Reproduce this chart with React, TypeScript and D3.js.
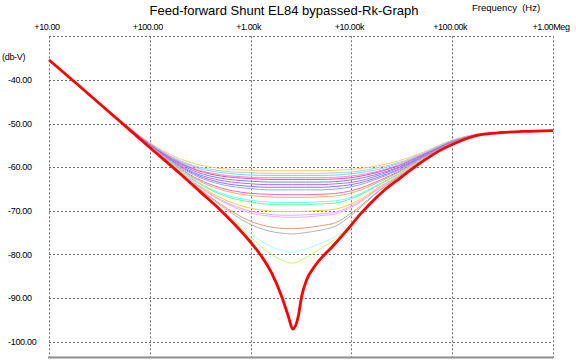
import React, { useEffect, useRef } from 'react';
import * as d3 from 'd3';

// frequency grid (Hz) shared by the stepped curves
const FREQ = [10, 20, 50, 100, 200, 300, 500, 1000, 1500, 2000, 2600, 3500, 5000, 7000, 10000, 20000, 30000, 50000, 100000, 200000, 500000, 1000000];

// stepped Rk curves (db-V), top to bottom
const step1 = [-35.4, -41.4, -49.1, -54.4, -58.1, -59.4, -60.3, -60.7, -60.8, -60.8, -60.8, -60.8, -60.8, -60.7, -60.5, -59.5, -58.5, -56.7, -53.8, -52.2, -51.8, -51.6];
const step2 = [-35.4, -41.4, -49.1, -54.5, -58.5, -59.9, -60.8, -61.3, -61.4, -61.4, -61.4, -61.4, -61.4, -61.3, -61.1, -59.9, -58.9, -56.9, -53.9, -52.3, -51.8, -51.6];
const step3 = [-35.4, -41.4, -49.2, -54.6, -58.7, -60.2, -61.2, -61.8, -61.9, -61.9, -61.9, -61.9, -61.9, -61.8, -61.5, -60.3, -59.1, -57.1, -54.0, -52.3, -51.8, -51.6];
const step4 = [-35.4, -41.4, -49.2, -54.7, -58.9, -60.6, -61.7, -62.3, -62.4, -62.4, -62.4, -62.4, -62.4, -62.3, -62.0, -60.7, -59.4, -57.2, -54.1, -52.3, -51.8, -51.6];
const step5 = [-35.4, -41.4, -49.2, -54.8, -59.1, -60.8, -62.0, -62.6, -62.8, -62.8, -62.8, -62.8, -62.8, -62.7, -62.4, -60.9, -59.6, -57.3, -54.2, -52.4, -51.8, -51.6];
const step6 = [-35.4, -41.4, -49.3, -54.9, -59.3, -61.2, -62.5, -63.2, -63.4, -63.4, -63.4, -63.4, -63.4, -63.3, -62.9, -61.3, -59.9, -57.5, -54.2, -52.4, -51.8, -51.6];
const step7 = [-35.4, -41.4, -49.3, -54.9, -59.6, -61.6, -63.0, -63.8, -64.0, -64.0, -64.0, -64.0, -64.0, -63.8, -63.5, -61.6, -60.1, -57.7, -54.3, -52.4, -51.8, -51.6];
const step8 = [-35.4, -41.4, -49.3, -55.0, -59.8, -61.9, -63.5, -64.4, -64.6, -64.6, -64.6, -64.6, -64.6, -64.4, -64.0, -62.0, -60.4, -57.8, -54.4, -52.4, -51.8, -51.6];
const step9 = [-35.4, -41.4, -49.3, -55.1, -60.0, -62.2, -63.9, -64.9, -65.2, -65.2, -65.2, -65.2, -65.2, -65.0, -64.5, -62.3, -60.6, -57.9, -54.4, -52.5, -51.8, -51.6];
const step10 = [-35.4, -41.4, -49.4, -55.2, -60.3, -62.7, -64.7, -66.0, -66.2, -66.3, -66.3, -66.3, -66.2, -66.0, -65.4, -62.8, -60.9, -58.1, -54.5, -52.5, -51.8, -51.6];
const step11 = [-35.4, -41.4, -49.4, -55.2, -60.4, -63.0, -65.1, -66.5, -66.8, -66.9, -66.9, -66.9, -66.8, -66.6, -65.9, -63.1, -61.1, -58.2, -54.5, -52.5, -51.8, -51.6];
const step12 = [-35.4, -41.4, -49.4, -55.3, -60.6, -63.4, -65.9, -67.6, -68.0, -68.1, -68.1, -68.1, -67.9, -67.7, -66.9, -63.5, -61.4, -58.3, -54.6, -52.5, -51.8, -51.6];
const step13 = [-35.4, -41.4, -49.4, -55.3, -60.7, -63.6, -66.2, -68.0, -68.5, -68.6, -68.6, -68.6, -68.4, -68.2, -67.2, -63.7, -61.5, -58.4, -54.6, -52.5, -51.8, -51.6];
const step14 = [-35.4, -41.4, -49.4, -55.4, -61.0, -64.0, -67.0, -69.4, -70.0, -70.2, -70.2, -70.1, -69.9, -69.6, -68.4, -64.2, -61.8, -58.5, -54.7, -52.5, -51.8, -51.6];
const step15 = [-35.4, -41.4, -49.4, -55.4, -61.1, -64.2, -67.4, -70.1, -70.8, -71.0, -71.0, -70.9, -70.7, -70.3, -68.9, -64.4, -61.9, -58.5, -54.7, -52.5, -51.8, -51.6];
const step16 = [-35.4, -41.4, -49.4, -55.4, -61.1, -64.3, -67.6, -70.5, -71.2, -71.4, -71.5, -71.4, -71.1, -70.7, -69.2, -64.5, -61.9, -58.6, -54.7, -52.5, -51.8, -51.6];
const step17 = [-35.4, -41.4, -49.4, -55.5, -61.3, -64.7, -68.4, -72.4, -73.6, -74.0, -74.1, -73.9, -73.4, -72.7, -70.5, -64.9, -62.1, -58.7, -54.8, -52.5, -51.8, -51.6];
const step18 = [-35.4, -41.4, -49.4, -55.5, -61.3, -64.8, -68.7, -73.1, -74.6, -75.1, -75.3, -75.0, -74.4, -73.5, -71.0, -65.0, -62.2, -58.7, -54.8, -52.5, -51.8, -51.6];
const step19 = [-35.4, -41.4, -49.4, -55.5, -61.4, -65.0, -69.4, -75.2, -77.9, -79.0, -79.5, -78.8, -77.4, -75.8, -72.3, -65.6, -62.5, -58.8, -54.8, -52.5, -51.8, -51.6];
const step20 = [-35.4, -41.4, -49.4, -55.5, -61.5, -65.1, -69.6, -76.0, -79.5, -81.2, -82.0, -80.8, -78.6, -76.4, -72.8, -65.8, -62.6, -58.8, -54.8, -52.5, -51.8, -51.6];

const STEPS = [step1, step2, step3, step4, step5, step6, step7, step8, step9, step10,
  step11, step12, step13, step14, step15, step16, step17, step18, step19, step20];

const STEP_COLORS = ['#ffcc66', '#b4c8dc', '#66e0ff', '#ff88cc', '#ff44aa', '#6688ff', '#bb66ff', '#8877ff', '#88aaff', '#ff66aa',
  '#ffaa66', '#66ffff', '#66ff99', '#ffcc33', '#ddaaff', '#ffaaee', '#d4a070', '#b4b4b4', '#aaffff', '#bbff66'];

// fully bypassed Rk (thick red)
const RED_FREQ = [10, 20, 50, 100, 200, 315, 500, 700, 1000, 1290, 1620, 2030, 2370, 2620, 2970, 3210, 3600, 4360, 6600, 9000, 12000, 15000, 20000, 30000, 50000, 75000, 100000, 150000, 200000, 300000, 500000, 1000000];
const RED_DB = [-35.4, -41.4, -49.4, -55.5, -61.5, -65.6, -69.8, -73.2, -77.2, -80.5, -84.3, -89.6, -94.2, -97.1, -94.2, -89.6, -85.8, -82.6, -78.0, -74.5, -71.0, -68.6, -65.8, -62.6, -58.8, -56.2, -54.8, -53.2, -52.5, -52.1, -51.8, -51.6];

const X_TICKS = [10, 100, 1000, 10000, 100000, 1000000];
const X_LABELS = ['+10.00', '+100.00', '+1.00k', '+10.00k', '+100.00k', '+1.00Meg'];
const Y_TICKS = [-40, -50, -60, -70, -80, -90, -100];

const FONT = '"Liberation Sans", Arial, sans-serif';

export default function App() {
  const ref = useRef<SVGSVGElement>(null);

  useEffect(() => {
    if (!ref.current) return;
    const svg = d3.select(ref.current);
    svg.selectAll('*').remove();

    const width = 576;
    const height = 361;
    const plot = { left: 49, right: 553, top: 36.3, bottom: 357 };

    svg.append('rect').attr('width', width).attr('height', height).attr('fill', '#fff');

    const x = d3.scaleLog().domain([10, 1e6]).range([plot.left, plot.right]);
    const y = d3.scaleLinear().domain([-30, -103.5]).range([plot.top, plot.bottom]);

    // ------- Grid -------
    svg.append('g')
      .selectAll('line')
      .data(Y_TICKS)
      .enter()
      .append('line')
      .attr('x1', plot.left)
      .attr('x2', plot.right)
      .attr('y1', (d) => Math.round(y(d)) + 0.5)
      .attr('y2', (d) => Math.round(y(d)) + 0.5)
      .attr('stroke', '#707070')
      .attr('stroke-dasharray', '2,2');

    svg.append('g')
      .selectAll('line')
      .data(X_TICKS)
      .enter()
      .append('line')
      .attr('x1', (d) => Math.round(x(d)) + 0.5)
      .attr('x2', (d) => Math.round(x(d)) + 0.5)
      .attr('y1', plot.top)
      .attr('y2', plot.bottom)
      .attr('stroke', '#707070')
      .attr('stroke-dasharray', '2,2');

    // top border dotted, bottom solid
    svg.append('line')
      .attr('x1', plot.left).attr('x2', plot.right)
      .attr('y1', 36.5).attr('y2', 36.5)
      .attr('stroke', '#707070').attr('stroke-dasharray', '2,2');
    svg.append('line')
      .attr('x1', plot.left - 1).attr('x2', plot.right + 1)
      .attr('y1', 357.5).attr('y2', 357.5)
      .attr('stroke', '#909090').attr('stroke-width', 2);

    // ------- Curves -------
    const line = d3
      .line<[number, number]>()
      .x((d) => x(d[0]))
      .y((d) => y(d[1]))
      .curve(d3.curveMonotoneX);

    STEPS.forEach((vals, i) => {
      svg.append('path')
        .datum(FREQ.map((f, k) => [f, vals[k]] as [number, number]))
        .attr('fill', 'none')
        .attr('stroke', STEP_COLORS[i])
        .attr('stroke-width', 1)
        .attr('d', line);
    });

    svg.append('path')
      .datum(RED_FREQ.map((f, k) => [f, RED_DB[k]] as [number, number]))
      .attr('fill', 'none')
      .attr('stroke', '#ff0000')
      .attr('stroke-width', 2.8)
      .attr('stroke-linejoin', 'round')
      .attr('d', line);

    // ------- Labels -------
    svg.append('text')
      .attr('x', 284)
      .attr('y', 15)
      .attr('text-anchor', 'middle')
      .attr('font-family', FONT)
      .attr('font-size', 13)
      .text('Feed-forward Shunt EL84 bypassed-Rk-Graph');

    svg.append('text')
      .attr('x', 472)
      .attr('y', 11)
      .attr('font-family', FONT)
      .attr('font-size', 9.5)
      .attr('xml:space', 'preserve')
      .style('white-space', 'pre')
      .text('Frequency  (Hz)');

    svg.append('g')
      .selectAll('text')
      .data(X_TICKS)
      .enter()
      .append('text')
      .attr('x', (d) => x(d) - 2)
      .attr('y', 30)
      .attr('text-anchor', 'middle')
      .attr('font-family', FONT)
      .attr('font-size', 9)
      .attr('letter-spacing', -0.4)
      .text((d, i) => X_LABELS[i]);

    svg.append('g')
      .selectAll('text')
      .data(Y_TICKS)
      .enter()
      .append('text')
      .attr('x', 8)
      .attr('y', (d) => y(d))
      .attr('dy', '0.35em')
      .attr('font-family', FONT)
      .attr('font-size', 9)
      .attr('letter-spacing', -0.3)
      .text((d) => d.toFixed(2));

    svg.append('text')
      .attr('x', 2)
      .attr('y', 57)
      .attr('dy', '0.35em')
      .attr('font-family', FONT)
      .attr('font-size', 9)
      .attr('letter-spacing', -0.3)
      .text('(db-V)');
  }, []);

  return (
    <svg
      ref={ref}
      width={576}
      height={361}
      style={{ position: 'absolute', left: 0, top: 0, display: 'block' }}
    />
  );
}
